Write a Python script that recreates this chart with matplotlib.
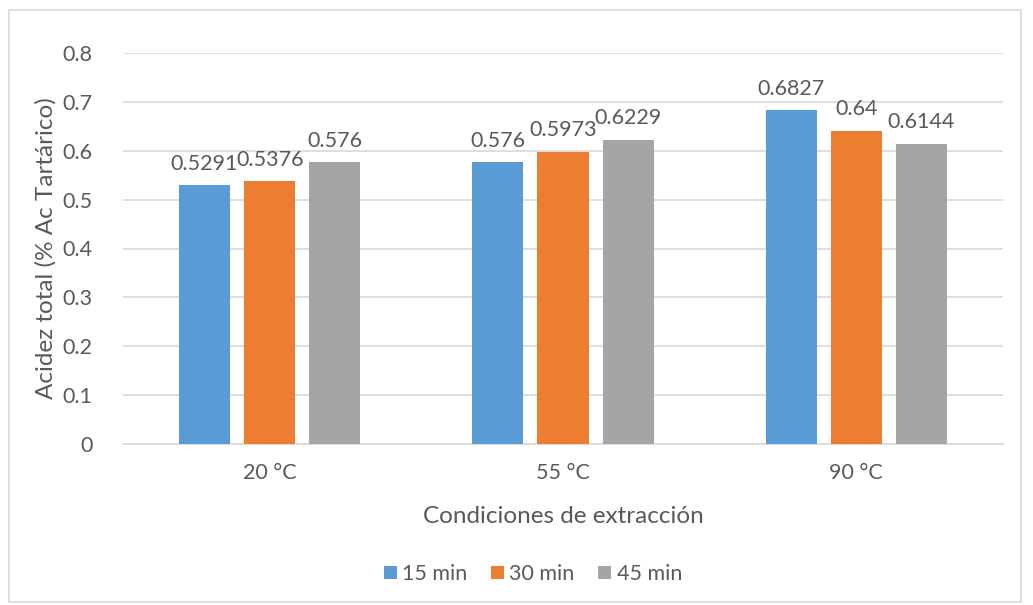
import matplotlib.pyplot as plt
import numpy as np
from matplotlib.patches import Rectangle

plt.rcParams['font.family'] = ['Lato', 'DejaVu Sans']

# data
categories = ['20 °C', '55 °C', '90 °C']
series_names = ['15 min', '30 min', '45 min']
min15 = [0.5291, 0.576, 0.6827]
min30 = [0.5376, 0.5973, 0.64]
min45 = [0.576, 0.6229, 0.6144]
label_text = [['0.5291', '0.576', '0.6827'],
              ['0.5376', '0.5973', '0.64'],
              ['0.576', '0.6229', '0.6144']]
colors = ['#5b9bd5', '#ed7d31', '#a5a5a5']
txt = '#595959'

fig = plt.figure(figsize=(10.33, 6.05), dpi=100)
ax = fig.add_axes([123 / 1033, 1 - 444 / 605, 880 / 1033, 391 / 605])

# light border around the whole chart
fig.patches.append(Rectangle((9 / 1033, 3 / 605), 1012 / 1033, 592 / 605,
                             transform=fig.transFigure, fill=False,
                             edgecolor='#d9d9d9', linewidth=1.2))

x = np.arange(len(categories))
width = 0.174
step = 0.222
for i, (vals, name) in enumerate(zip([min15, min30, min45], series_names)):
    pos = x + (i - 1) * step
    ax.bar(pos, vals, width, color=colors[i], label=name, zorder=3)
    for p, v, t in zip(pos, vals, label_text[i]):
        ax.text(p, v + 0.024, t, ha='center', va='bottom', fontsize=15.5, color=txt)

ax.set_xlim(-0.5, 2.5)
ax.set_ylim(0, 0.8)
ax.set_yticks(np.arange(0, 0.81, 0.1))
ax.set_yticklabels(['0', '0.1', '0.2', '0.3', '0.4', '0.5', '0.6', '0.7', '0.8'])
ax.set_xticks(x)
ax.set_xticklabels(categories)
ax.tick_params(axis='both', length=0, labelsize=15.5, labelcolor=txt)
ax.tick_params(axis='x', pad=14)
ax.tick_params(axis='y', pad=22)
ax.grid(axis='y', color='#d9d9d9', linewidth=1.2, zorder=0)
for s in ['top', 'right', 'left']:
    ax.spines[s].set_visible(False)
ax.spines['bottom'].set_color('#d9d9d9')
ax.spines['bottom'].set_linewidth(1.2)

ax.set_xlabel('Condiciones de extracción', fontsize=17.5, color=txt, labelpad=16)
ax.set_ylabel('Acidez total (% Ac Tartárico)', fontsize=17.5, color=txt, labelpad=4)

fig.legend(loc='center', bbox_to_anchor=(533 / 1033, 1 - 574 / 605), ncol=3,
           frameon=False, fontsize=15.5, labelcolor=txt, handlelength=0.6,
           handleheight=0.6, handletextpad=0.25, columnspacing=1.1)

fig.savefig('out.png', dpi=100)
